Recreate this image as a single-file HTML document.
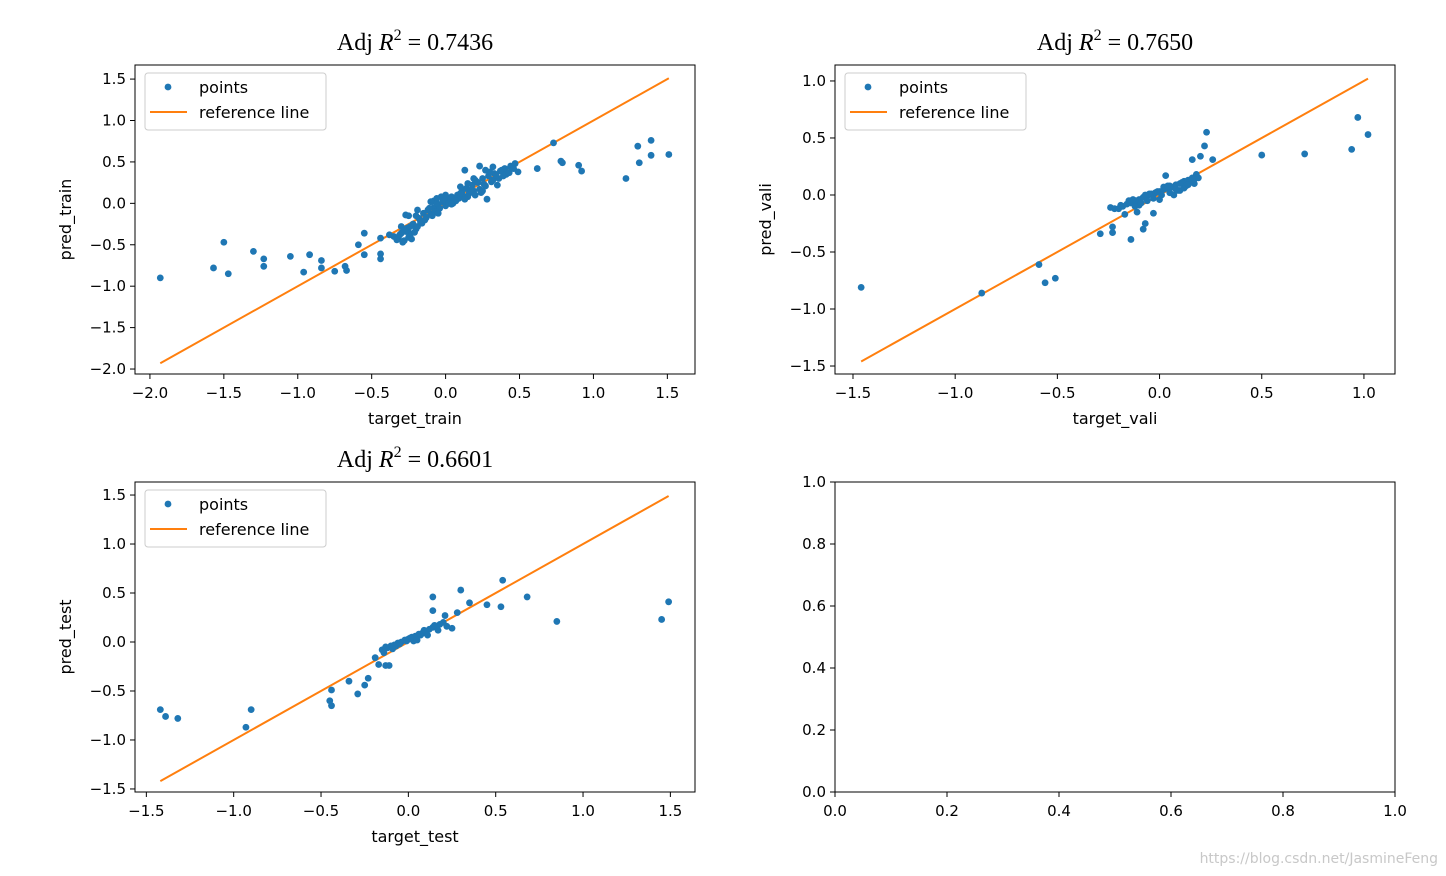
<!DOCTYPE html>
<html><head><meta charset="utf-8">
<style>
html,body{margin:0;padding:0;background:#fff;}
svg{display:block;}
text{font-family:"DejaVu Sans","Liberation Sans",sans-serif;fill:#000;}
.title{font-family:"Liberation Serif",serif;font-size:24px;}
</style></head>
<body>
<svg id="fig" width="1446" height="876" xmlns="http://www.w3.org/2000/svg">
<text x="1438" y="863" text-anchor="end" font-size="14" style="fill:#c8c8c8">https://blog.csdn.net/JasmineFeng</text>
</svg>
<script>
// ---- Data: train ----
const trainTarget = [-1.93,-1.57,-1.50,-1.47,-1.30,-1.23,-1.23,-1.05,-0.96,-0.92,-0.84,-0.84,-0.75,-0.68,-0.67,-0.59,-0.55,-0.55,-0.44,-0.44,-0.44,-0.38,-0.27,-0.25,
 0.73,0.62,0.78,0.79,0.90,0.92,1.22,1.30,1.31,1.39,1.39,1.51,0.44,0.49,
 -0.35,-0.32,-0.30,-0.28,-0.26,-0.24,-0.22,-0.20,-0.18,-0.16,-0.15,-0.13,-0.12,-0.10,-0.08,-0.07,-0.05,-0.04,-0.02,0.00,0.01,0.03,0.04,0.06,0.08,0.09,0.11,0.12,0.14,0.16,0.18,0.19,0.21,0.23,0.25,0.27,0.29,0.31,0.33,0.36,0.38,0.41,0.44,0.47,
 -0.30,-0.25,-0.20,-0.14,-0.10,-0.05,0.00,0.05,0.10,0.15,0.20,0.25,0.30,0.35,0.40,0.13,0.23,0.19,0.28,-0.03,-0.08,
 -0.33,-0.31,-0.29,-0.27,-0.25,-0.23,-0.21,-0.19,-0.17,-0.11,-0.09,-0.06,-0.01,0.02,0.07,0.10,0.13,0.17,0.20,0.22,0.24,0.26,0.32,0.34,0.37,0.39,0.43,0.46,-0.28,-0.24,-0.19,-0.06,0.04,0.15,0.27,0.32];
const trainPred = [-0.90,-0.78,-0.47,-0.85,-0.58,-0.67,-0.76,-0.64,-0.83,-0.62,-0.69,-0.78,-0.82,-0.76,-0.81,-0.50,-0.62,-0.36,-0.61,-0.67,-0.42,-0.38,-0.14,-0.15,
 0.73,0.42,0.51,0.49,0.46,0.39,0.30,0.69,0.49,0.76,0.58,0.59,0.45,0.38,
 -0.40,-0.42,-0.36,-0.45,-0.30,-0.38,-0.25,-0.31,-0.18,-0.24,-0.12,-0.17,-0.08,-0.13,-0.05,-0.10,-0.02,-0.06,0.02,-0.03,0.05,0.01,0.08,0.04,0.10,0.06,0.14,0.09,0.18,0.12,0.22,0.15,0.26,0.17,0.30,0.21,0.33,0.26,0.36,0.30,0.40,0.35,0.44,0.48,
 -0.28,-0.35,-0.15,-0.20,0.02,-0.12,0.10,0.00,0.20,0.08,0.28,0.15,0.38,0.22,0.42,0.40,0.45,0.30,0.05,0.08,0.03,
 -0.44,-0.38,-0.47,-0.34,-0.41,-0.43,-0.35,-0.28,-0.22,-0.06,-0.15,0.00,0.04,0.00,0.03,0.12,0.05,0.16,0.10,0.25,0.13,0.23,0.28,0.34,0.39,0.33,0.37,0.42,-0.33,-0.28,-0.08,0.06,-0.01,0.24,0.40,0.44];
// ---- Data: vali ----
const valiTarget = [-1.46,-0.87,-0.59,-0.56,-0.51,0.50,0.71,0.94,0.97,1.02,0.23,0.22,0.20,0.26,0.16,-0.29,-0.23,-0.23,-0.14,-0.08,-0.07,-0.03,-0.24,-0.22,-0.17,0.03,
 -0.20,-0.18,-0.16,-0.14,-0.12,-0.10,-0.08,-0.06,-0.04,-0.02,0.00,0.02,0.04,0.06,0.08,0.10,0.12,0.14,0.16,0.18,-0.15,-0.10,-0.05,0.00,0.05,0.10,0.15,0.12,0.07,0.02,-0.11,0.17,
 -0.19,-0.13,-0.09,-0.07,-0.03,-0.01,0.01,0.03,0.05,0.09,0.11,0.13,0.15,0.17,-0.12,-0.06,0.04,0.08,0.14,0.19];
const valiPred = [-0.81,-0.86,-0.61,-0.77,-0.73,0.35,0.36,0.40,0.68,0.53,0.55,0.43,0.34,0.31,0.31,-0.34,-0.28,-0.33,-0.39,-0.30,-0.25,-0.16,-0.11,-0.12,-0.17,0.17,
 -0.12,-0.10,-0.08,-0.07,-0.05,-0.04,-0.02,-0.01,0.01,0.02,0.03,0.05,0.06,0.07,0.09,0.10,0.12,0.13,0.15,0.18,-0.05,-0.09,0.01,-0.04,0.08,0.04,0.12,0.06,0.00,0.07,-0.15,0.10,
 -0.09,-0.04,-0.07,0.00,-0.03,0.03,0.00,0.06,0.02,0.04,0.11,0.08,0.12,0.14,-0.10,-0.05,0.08,0.05,0.09,0.15];
// ---- Data: test ----
const testTarget = [-1.42,-1.39,-1.32,-0.93,-0.90,-0.44,-0.45,-0.44,-0.34,-0.29,-0.25,-0.23,-0.17,-0.13,-0.11,-0.19,0.14,0.14,0.30,0.35,0.45,0.54,0.53,0.68,0.85,1.45,1.49,0.25,0.21,0.28,
 -0.15,-0.12,-0.10,-0.08,-0.06,-0.04,-0.02,0.00,0.02,0.04,0.06,0.08,0.10,0.12,0.14,0.16,0.18,0.20,-0.14,-0.07,0.03,0.09,0.15,
 -0.13,-0.09,-0.05,-0.01,0.01,0.05,0.07,0.11,0.17,0.22];
const testPred = [-0.69,-0.76,-0.78,-0.87,-0.69,-0.65,-0.60,-0.49,-0.40,-0.53,-0.44,-0.37,-0.23,-0.24,-0.24,-0.16,0.46,0.32,0.53,0.40,0.38,0.63,0.36,0.46,0.21,0.23,0.41,0.14,0.27,0.30,
 -0.08,-0.06,-0.04,-0.03,-0.01,0.00,0.02,0.03,0.05,0.06,0.08,0.09,0.11,0.13,0.15,0.16,0.18,0.20,-0.11,-0.04,0.01,0.12,0.17,
 -0.05,-0.07,-0.02,0.01,0.04,0.02,0.07,0.07,0.12,0.16];
// tick labels
const trainXTicks=[-2.0,-1.5,-1.0,-0.5,0.0,0.5,1.0,1.5];
const trainYTicks=[-2.0,-1.5,-1.0,-0.5,0.0,0.5,1.0,1.5];
const valiXTicks=[-1.5,-1.0,-0.5,0.0,0.5,1.0];
const valiYTicks=[-1.5,-1.0,-0.5,0.0,0.5,1.0];
const testXTicks=[-1.5,-1.0,-0.5,0.0,0.5,1.0,1.5];
const testYTicks=[-1.5,-1.0,-0.5,0.0,0.5,1.0,1.5];
const emptyTicks=[0.0,0.2,0.4,0.6,0.8,1.0];
const r2Values=["0.7436","0.7650","0.6601"];

const NS="http://www.w3.org/2000/svg";
const fig=document.getElementById('fig');
function el(tag,attrs,parent,txt){const e=document.createElementNS(NS,tag);for(const k in attrs)e.setAttribute(k,attrs[k]);if(txt!==undefined)e.textContent=txt;(parent||fig).appendChild(e);return e;}
function fmt(v){return (v<0?'\u2212':'')+Math.abs(v).toFixed(1);}

function panel(name,box,xd,yd,xt,yt,xs,ys,xlabel,ylabel,title,leg){
  const [L,T,R,B]=box;
  const sx=v=>L+(v-xd[0])/(xd[1]-xd[0])*(R-L);
  const sy=v=>B-(v-yd[0])/(yd[1]-yd[0])*(B-T);
  const g=el('g',{});
  
  
  if(xs){
    const mn=Math.min(...xs),mx=Math.max(...xs);
    const ln=el('line',{x1:sx(mn),y1:sy(mn),x2:sx(mx),y2:sy(mx),stroke:'#ff7f0e','stroke-width':2},g);
    
    
    for(let i=0;i<xs.length;i++){
      const c=el('circle',{cx:sx(xs[i]),cy:sy(ys[i]),r:3.4,fill:'#1f77b4'},g);
      
      
    }
  }
  const fr=el('rect',{x:L,y:T,width:R-L,height:B-T,fill:'none',stroke:'#000','stroke-width':1},g);
  
  
  xt.forEach(v=>{const x=sx(v);el('line',{x1:x,y1:B,x2:x,y2:B+5,stroke:'#000'},g);
    const t=el('text',{x:x,y:B+24,'text-anchor':'middle','font-size':15},g,fmt(v));
    });
  yt.forEach(v=>{const y=sy(v);el('line',{x1:L-5,y1:y,x2:L,y2:y,stroke:'#000'},g);
    const t=el('text',{x:L-9,y:y+5,'text-anchor':'end','font-size':15},g,fmt(v));
    });
  if(xlabel){const t=el('text',{x:(L+R)/2,y:B+50,'text-anchor':'middle','font-size':16},g,xlabel);
    }
  if(ylabel){const t=el('text',{x:0,y:0,'text-anchor':'middle','font-size':16,transform:`translate(${L-64},${(T+B)/2}) rotate(-90)`},g,ylabel);
    }
  if(title){const t=el('text',{x:(L+R)/2,y:T-15,'text-anchor':'middle',class:'title'},g);
    
    el('tspan',{},t,'Adj ');el('tspan',{'font-style':'italic'},t,'R');
    el('tspan',{'font-size':16,dy:-10},t,'2');el('tspan',{dy:10},t,' = '+title);}
  if(leg){const lg=el('g',{},g);
    
    el('rect',{x:L+10,y:T+8,width:181,height:57,rx:3,fill:'#fff',stroke:'#ccc'},lg);
    el('circle',{cx:L+33,cy:T+22,r:3.4,fill:'#1f77b4'},lg);
    el('text',{x:L+64,y:T+28,'font-size':16},lg,'points');
    el('line',{x1:L+15,y1:T+47,x2:L+52,y2:T+47,stroke:'#ff7f0e','stroke-width':2},lg);
    el('text',{x:L+64,y:T+53,'font-size':16},lg,'reference line');}
}
panel('train',[135,65,695,374],[-2.101,1.687],[-2.06,1.67],trainXTicks,trainYTicks,trainTarget,trainPred,'target_train','pred_train',r2Values[0],true);
panel('vali',[835,65,1395,374],[-1.588,1.152],[-1.57,1.14],valiXTicks,valiYTicks,valiTarget,valiPred,'target_vali','pred_vali',r2Values[1],true);
panel('test',[135,482,695,792],[-1.565,1.641],[-1.531,1.633],testXTicks,testYTicks,testTarget,testPred,'target_test','pred_test',r2Values[2],true);
panel('empty',[835,482,1395,792],[0,1],[0,1],emptyTicks,emptyTicks,null,null,null,null,null,false);
</script>
</body></html>
